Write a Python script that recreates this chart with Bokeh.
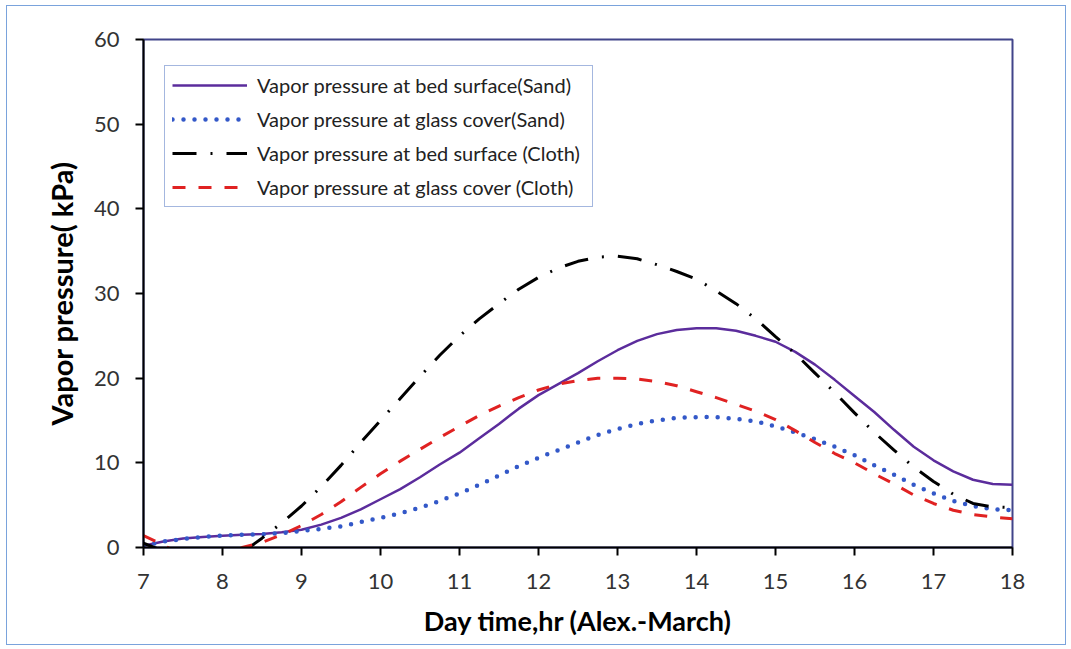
from bokeh.plotting import figure
from bokeh.models import Legend, LegendItem, FixedTicker, Range1d
from bokeh.embed import file_html
from bokeh.resources import INLINE

# ---- data ----
hours = [7.0, 7.25, 7.5, 7.75, 8.0, 8.25, 8.5, 8.75, 9.0, 9.25, 9.5, 9.75,
         10.0, 10.25, 10.5, 10.75, 11.0, 11.25, 11.5, 11.75, 12.0, 12.25, 12.5, 12.75,
         13.0, 13.25, 13.5, 13.75, 14.0, 14.25, 14.5, 14.75, 15.0, 15.25, 15.5, 15.75,
         16.0, 16.25, 16.5, 16.75, 17.0, 17.25, 17.5, 17.75, 18.0]
bed_sand = [0.2, 0.7, 1.05, 1.25, 1.4, 1.5, 1.6, 1.8, 2.1, 2.7, 3.5, 4.5,
            5.7, 6.9, 8.3, 9.8, 11.2, 12.9, 14.6, 16.4, 18.0, 19.3, 20.6, 22.0,
            23.3, 24.4, 25.2, 25.7, 25.9, 25.9, 25.6, 25.0, 24.3, 23.1, 21.6, 19.8,
            17.9, 16.0, 13.9, 11.9, 10.3, 9.0, 8.0, 7.5, 7.4]
glass_sand = [0.2, 0.7, 1.0, 1.25, 1.4, 1.5, 1.55, 1.7, 1.95, 2.2, 2.5, 3.0,
              3.5, 4.05, 4.7, 5.5, 6.4, 7.4, 8.5, 9.6, 10.6, 11.5, 12.4, 13.3,
              14.0, 14.6, 15.0, 15.3, 15.4, 15.4, 15.2, 14.9, 14.3, 13.6, 12.8, 11.9,
              10.9, 9.7, 8.6, 7.4, 6.4, 5.5, 4.9, 4.5, 4.4]
bed_cloth = [0.5, -0.4, -1.2, -1.8, -1.9, -0.6, 1.1, 2.9, 4.9, 7.2, 9.7, 12.4,
             15.0, 17.6, 20.2, 22.7, 25.0, 27.0, 28.8, 30.5, 31.9, 33.0, 33.8, 34.3,
             34.4, 34.1, 33.4, 32.6, 31.7, 30.3, 28.8, 27.0, 24.9, 22.9, 20.6, 18.3,
             15.9, 13.6, 11.5, 9.5, 7.8, 6.3, 5.2, 4.8, 4.7]
glass_cloth = [1.4, 0.3, -1.0, -1.5, -1.2, 0.0, 0.6, 1.5, 2.6, 3.9, 5.4, 7.1,
               8.7, 10.2, 11.6, 13.0, 14.3, 15.6, 16.7, 17.7, 18.6, 19.3, 19.7, 20.0,
               20.0, 19.9, 19.6, 19.1, 18.4, 17.7, 16.9, 16.1, 15.1, 13.8, 12.4, 11.1,
               10.0, 8.7, 7.5, 6.2, 5.2, 4.4, 3.9, 3.6, 3.4]
labels = ["Vapor pressure at bed surface(Sand)",
          "Vapor pressure at glass cover(Sand)",
          "Vapor pressure at bed surface (Cloth)",
          "Vapor pressure at glass cover (Cloth)"]
x_ticks = [7, 8, 9, 10, 11, 12, 13, 14, 15, 16, 17, 18]
y_ticks = [0, 10, 20, 30, 40, 50, 60]

FONT = "Lato"

p = figure(width=1060, height=640, output_backend="svg", toolbar_location=None,
           x_range=Range1d(7, 18), y_range=Range1d(0, 60),
           min_border_left=136, min_border_right=55, min_border_top=33, min_border_bottom=99)
p.styles = {"border": "1px solid #7aa3dc", "margin": "5px 0 0 6px"}
p.background_fill_color = "white"
p.border_fill_color = "white"
p.grid.visible = False
p.outline_line_color = "#41448a"
p.outline_line_width = 2

r1 = p.line(hours, bed_sand, line_color="#5b2c9c", line_width=2.5)
r2 = p.line(hours, glass_sand, line_color="#3358c8", line_width=4.5, line_dash="0 11", line_cap="round")
r3 = p.line(hours, bed_cloth, line_color="black", line_width=3, line_dash="24 14 2 14")
r4 = p.line(hours, glass_cloth, line_color="#e02222", line_width=3, line_dash="13 13")

for ax in (p.xaxis[0], p.yaxis[0]):
    ax.axis_line_color = "black"
    ax.axis_line_width = 2
    ax.major_tick_line_color = "black"
    ax.major_tick_line_width = 2
    ax.major_tick_out = 8
    ax.major_tick_in = 0
    ax.minor_tick_line_color = None
    ax.major_label_text_font = FONT
    ax.major_label_text_font_size = "22px"
    ax.major_label_text_color = "#333333"
    ax.axis_label_text_font = FONT
    ax.axis_label_text_font_style = "bold"
    ax.axis_label_text_color = "black"

p.xaxis[0].ticker = FixedTicker(ticks=x_ticks)
p.yaxis[0].ticker = FixedTicker(ticks=y_ticks)
p.xaxis[0].axis_label = "Day time,hr (Alex.-March)"
p.yaxis[0].axis_label = "Vapor pressure( kPa)"
p.xaxis[0].axis_label_text_font_size = "27px"
p.yaxis[0].axis_label_text_font_size = "29px"
p.xaxis[0].major_label_standoff = 18
p.yaxis[0].major_label_standoff = 16
p.xaxis[0].axis_label_standoff = 12
p.yaxis[0].axis_label_standoff = 12

legend = Legend(items=[LegendItem(label=labels[0], renderers=[r1]),
                       LegendItem(label=labels[1], renderers=[r2]),
                       LegendItem(label=labels[2], renderers=[r3]),
                       LegendItem(label=labels[3], renderers=[r4])],
                location=(21, 340))
legend.label_text_font = FONT
legend.label_text_font_size = "20px"
legend.label_text_color = "#222222"
legend.glyph_width = 75
legend.glyph_height = 20
legend.label_height = 24
legend.label_standoff = 10
legend.label_width = 328
legend.spacing = 10
legend.padding = 7
legend.margin = 0
legend.border_line_color = "#4a6fbf"
legend.border_line_width = 1.5
legend.background_fill_color = "white"
legend.background_fill_alpha = 1
p.add_layout(legend, "center")

open("out.html", "w").write(file_html(p, INLINE))
